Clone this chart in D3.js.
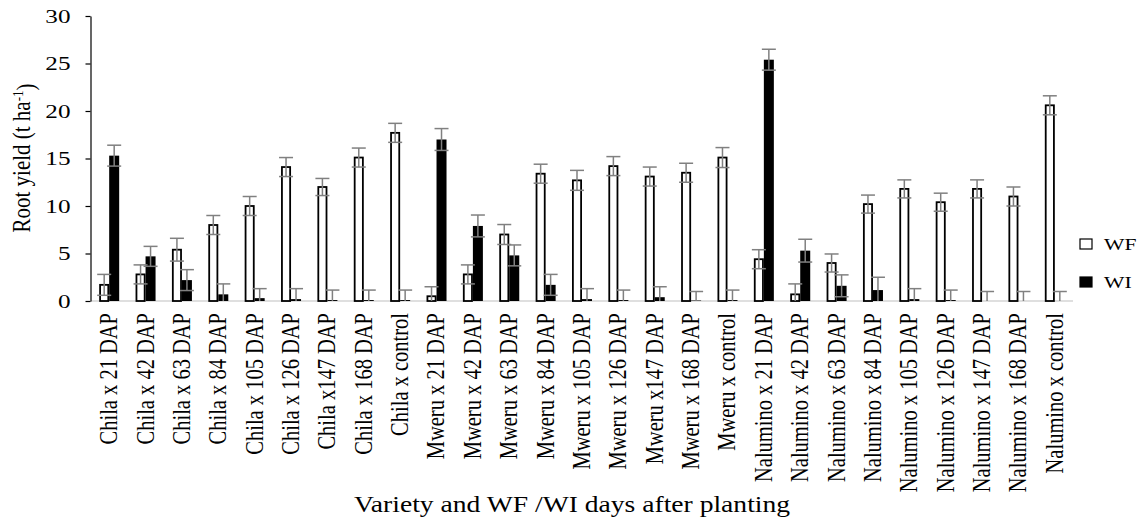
<!DOCTYPE html>
<html>
<head>
<meta charset="utf-8">
<script src="https://cdn.jsdelivr.net/npm/d3@7"></script>
<style>
  body { margin: 0; background: #fff; }
  svg text { font-family: "Liberation Serif", "Times New Roman", Times, serif; fill: #000; }
</style>
</head>
<body>
<div id="chart"></div>
<script>
// categories (variety x WF/WI days after planting)
var categories = ["Chila x 21 DAP", "Chila x 42 DAP", "Chila x 63 DAP", "Chila x 84 DAP", "Chila x 105 DAP",
  "Chila x 126 DAP", "Chila x147 DAP", "Chila x 168 DAP", "Chila x control",
  "Mweru x 21 DAP", "Mweru x 42 DAP", "Mweru x 63 DAP", "Mweru x 84 DAP", "Mweru x 105 DAP",
  "Mweru x 126 DAP", "Mweru x147 DAP", "Mweru x 168 DAP", "Mweru x control",
  "Nalumino x 21 DAP", "Nalumino x 42 DAP", "Nalumino x 63 DAP", "Nalumino x 84 DAP", "Nalumino x 105 DAP",
  "Nalumino x 126 DAP", "Nalumino x 147 DAP", "Nalumino x 168 DAP", "Nalumino x control"];

// root yield, t/ha
var wf    = [1.7, 2.8, 5.4, 8.0, 10.0, 14.1, 12.0, 15.1, 17.7,
             0.5, 2.8, 7.0, 13.4, 12.7, 14.2, 13.1, 13.5, 15.1,
             4.4, 0.7, 4.0, 10.2, 11.8, 10.4, 11.8, 11.0, 20.6];
var wfErr = [1.1, 1.0, 1.2, 1.0, 1.0, 1.0, 0.9, 1.0, 1.0,
             1.0, 1.0, 1.05, 1.0, 1.05, 1.0, 1.0, 1.0, 1.05,
             1.0, 1.1, 0.95, 0.95, 0.95, 0.95, 0.95, 1.0, 1.0];
var wi    = [15.3, 4.7, 2.2, 0.7, 0.3, 0.2, 0.1, 0.1, 0.1,
             17.0, 7.9, 4.8, 1.7, 0.2, 0.1, 0.4, 0.05, 0.1,
             25.4, 5.3, 1.6, 1.15, 0.2, 0.1, 0, 0, 0];
var wiErr = [1.1, 1.05, 1.1, 1.1, 1.0, 1.1, 1.05, 1.05, 1.05,
             1.15, 1.15, 1.1, 1.1, 1.1, 1.05, 1.1, 0.95, 1.05,
             1.1, 1.2, 1.15, 1.35, 1.1, 1.05, 1.0, 1.0, 1.0];
var yTicks = [0, 5, 10, 15, 20, 25, 30];
var seriesNames = ["WF", "WI"];

var serif = "'Liberation Serif', 'Times New Roman', Times, serif";
var width = 1147, height = 524;
var svg = d3.select("#chart").append("svg")
  .attr("width", width)
  .attr("height", height)
  .attr("font-family", serif);

var x = d3.scaleBand()
  .domain(categories)
  .range([91, 1073]);

var y = d3.scaleLinear()
  .domain([0, 30])
  .range([301, 16]);

var barW = 10;

// x axis line (light grey)
svg.append("line")
  .attr("x1", x.range()[0]).attr("x2", x.range()[1])
  .attr("y1", y(0)).attr("y2", y(0))
  .style("stroke", "#bfbfbf")
  .style("stroke-width", 1.2);

// y axis
var yAxis = svg.append("g")
  .attr("transform", "translate(" + (x.range()[0] - 0.5) + ",0)")
  .call(d3.axisLeft(y).tickValues(yTicks).tickSize(5).tickSizeOuter(0));
yAxis.attr("font-family", serif);
yAxis.select(".domain").style("stroke", "#000").style("stroke-width", 1.2);
yAxis.selectAll(".tick line").style("stroke", "#000").style("stroke-width", 1.2);
yAxis.selectAll(".tick text").remove();
yAxis.selectAll(".tick").append("text")
  .attr("transform", "translate(-20,0) scale(1.4,1)")
  .attr("dy", "0.34em")
  .style("text-anchor", "end")
  .style("font-size", "18px")
  .text(function(d) { return d; });

// bars
var groups = svg.append("g").selectAll("g")
  .data(categories)
  .enter().append("g")
  .attr("transform", function(d) { return "translate(" + (x(d) + x.bandwidth() / 2) + ",0)"; });

groups.append("rect")
  .attr("x", -barW + 0.9)
  .attr("width", barW - 1.8)
  .attr("y", function(d, i) { return y(wf[i]); })
  .attr("height", function(d, i) { return y(0) - y(wf[i]); })
  .style("fill", "#fff")
  .style("stroke", "#000")
  .style("stroke-width", 1.8);

groups.append("rect")
  .attr("x", 0)
  .attr("width", barW)
  .attr("y", function(d, i) { return y(wi[i]); })
  .attr("height", function(d, i) { return y(0) - y(wi[i]); })
  .style("fill", "#000");

// error bars
function errBar(sel, cx, vals, errs) {
  var g = sel.append("g")
    .style("stroke", "#808080")
    .style("stroke-width", 1.5);
  g.append("line")
    .attr("x1", cx).attr("x2", cx)
    .attr("y1", function(d, i) { return y(vals[i] + errs[i]); })
    .attr("y2", function(d, i) { return y(Math.max(0, vals[i] - errs[i])); });
  g.append("line")
    .attr("x1", cx - 7).attr("x2", cx + 7)
    .attr("y1", function(d, i) { return y(vals[i] + errs[i]); })
    .attr("y2", function(d, i) { return y(vals[i] + errs[i]); });
  g.append("line")
    .attr("x1", cx - 7).attr("x2", cx + 7)
    .attr("y1", function(d, i) { return y(Math.max(0, vals[i] - errs[i])); })
    .attr("y2", function(d, i) { return y(Math.max(0, vals[i] - errs[i])); })
    .style("display", function(d, i) { return vals[i] - errs[i] > 0 ? null : "none"; });
}
errBar(groups, -barW / 2, wf, wfErr);
errBar(groups, barW / 2, wi, wiErr);

// category labels
svg.append("g").selectAll("text")
  .data(categories)
  .enter().append("text")
  .attr("transform", function(d) {
    return "translate(" + (x(d) + x.bandwidth() / 2 - 1) + ",313) scale(1.25,1) rotate(-90)";
  })
  .attr("dy", "0.35em")
  .style("text-anchor", "end")
  .style("font-size", "20.5px")
  .text(function(d) { return d; });

// axis titles
svg.append("text")
  .attr("transform", "translate(572,512) scale(1.2,1)")
  .style("text-anchor", "middle")
  .style("font-size", "23px")
  .text("Variety and WF /WI days after planting");

var yt = svg.append("text")
  .attr("transform", "translate(30,158) scale(1.2,1) rotate(-90)")
  .style("text-anchor", "middle")
  .style("font-size", "21px");
yt.append("tspan").text("Root yield (t ha");
yt.append("tspan").attr("dy", "-0.45em").style("font-size", "13px").text("-1");
yt.append("tspan").attr("dy", "0.45em").text(")");

// legend
var legend = svg.append("g").selectAll("g")
  .data(seriesNames)
  .enter().append("g")
  .attr("transform", function(d, i) { return "translate(1080," + (239 + i * 38) + ")"; });
legend.append("rect")
  .attr("width", 12).attr("height", 10)
  .style("fill", function(d, i) { return i === 0 ? "#fff" : "#000"; })
  .style("stroke", "#000")
  .style("stroke-width", 1.2);
legend.append("text")
  .attr("transform", "translate(24,11) scale(1.35,1)")
  .style("font-size", "16px")
  .text(function(d) { return d; });
</script>
</body>
</html>
